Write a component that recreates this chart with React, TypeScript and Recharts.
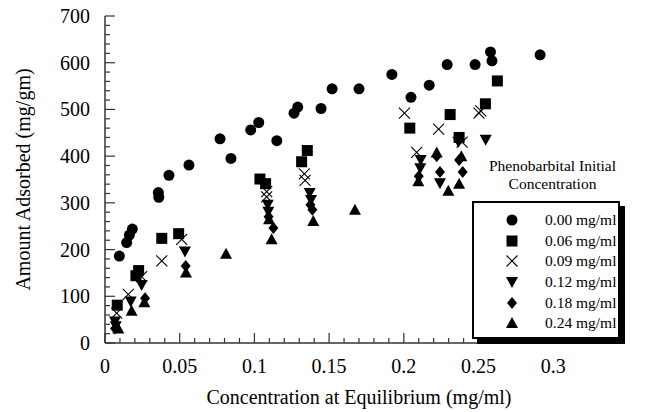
import React from 'react';
import { ScatterChart, Scatter, XAxis, YAxis } from 'recharts';

// Axis ticks: labelled values, long (major) and short (minor) tick marks
const xTickLabels = [0, 0.05, 0.1, 0.15, 0.2, 0.25, 0.3];
const xMajorTicks = [0, 0.05, 0.1, 0.15, 0.2, 0.25, 0.3];
const xMinorTicks = [
  0.01, 0.02, 0.03, 0.04, 0.06, 0.07, 0.08, 0.09, 0.11, 0.12, 0.13, 0.14,
  0.16, 0.17, 0.18, 0.19, 0.21, 0.22, 0.23, 0.24, 0.26, 0.27, 0.28, 0.29,
  0.31, 0.32, 0.33,
];
const yTickLabels = [0, 100, 200, 300, 400, 500, 600, 700];
const yMajorTicks = [0, 100, 200, 300, 400, 500, 600, 700];
const yMinorTicks = [
  20, 40, 60, 80, 120, 140, 160, 180, 220, 240, 260, 280, 320, 340, 360, 380,
  420, 440, 460, 480, 520, 540, 560, 580, 620, 640, 660, 680,
];

// Phenobarbital initial concentration series: x = equilibrium conc (mg/ml), y = adsorbed (mg/gm)
const pheno000 = [
  { x: 0.0096, y: 186 }, { x: 0.0145, y: 215 }, { x: 0.0163, y: 231 }, { x: 0.0183, y: 244 },
  { x: 0.0357, y: 322 }, { x: 0.036, y: 312 }, { x: 0.0428, y: 359 }, { x: 0.0562, y: 381 },
  { x: 0.077, y: 437 }, { x: 0.0843, y: 395 }, { x: 0.0975, y: 456 }, { x: 0.1029, y: 472 },
  { x: 0.115, y: 433 }, { x: 0.1265, y: 492 }, { x: 0.129, y: 505 }, { x: 0.1446, y: 502 },
  { x: 0.152, y: 544 }, { x: 0.17, y: 544 }, { x: 0.192, y: 575 }, { x: 0.2048, y: 526 },
  { x: 0.217, y: 552 }, { x: 0.229, y: 596 }, { x: 0.2477, y: 596 }, { x: 0.258, y: 623 },
  { x: 0.259, y: 604 }, { x: 0.2912, y: 617 },
];
const pheno006 = [
  { x: 0.0082, y: 81 }, { x: 0.0207, y: 144 }, { x: 0.0225, y: 155 }, { x: 0.038, y: 224 },
  { x: 0.0493, y: 234 }, { x: 0.1037, y: 351 }, { x: 0.1075, y: 341 }, { x: 0.1316, y: 388 },
  { x: 0.1354, y: 412 }, { x: 0.204, y: 460 }, { x: 0.231, y: 489 }, { x: 0.237, y: 440 },
  { x: 0.2546, y: 512 }, { x: 0.2626, y: 561 },
];
const pheno009 = [
  { x: 0.0078, y: 64 }, { x: 0.0156, y: 104 }, { x: 0.0245, y: 142 }, { x: 0.038, y: 176 },
  { x: 0.0513, y: 222 }, { x: 0.1082, y: 324 }, { x: 0.1082, y: 313 }, { x: 0.1334, y: 362 },
  { x: 0.1339, y: 348 }, { x: 0.2004, y: 492 }, { x: 0.2086, y: 408 }, { x: 0.2233, y: 458 },
  { x: 0.239, y: 430 }, { x: 0.2503, y: 492 }, { x: 0.2515, y: 497 },
];
const pheno012 = [
  { x: 0.0067, y: 46 }, { x: 0.0072, y: 36 }, { x: 0.0172, y: 89 }, { x: 0.0245, y: 124 },
  { x: 0.0535, y: 196 }, { x: 0.1089, y: 296 }, { x: 0.1093, y: 281 }, { x: 0.137, y: 321 },
  { x: 0.1379, y: 306 }, { x: 0.2113, y: 392 }, { x: 0.211, y: 374 }, { x: 0.2242, y: 342 },
  { x: 0.2365, y: 431 }, { x: 0.2548, y: 435 },
];
const pheno018 = [
  { x: 0.0067, y: 31 }, { x: 0.0268, y: 96 }, { x: 0.054, y: 165 }, { x: 0.1095, y: 270 },
  { x: 0.1127, y: 246 }, { x: 0.1375, y: 296 }, { x: 0.1388, y: 285 }, { x: 0.21, y: 357 },
  { x: 0.222, y: 400 }, { x: 0.2242, y: 366 }, { x: 0.237, y: 392 }, { x: 0.2394, y: 366 },
];
const pheno024 = [
  { x: 0.0089, y: 31 }, { x: 0.0178, y: 69 }, { x: 0.0263, y: 87 }, { x: 0.0542, y: 151 },
  { x: 0.081, y: 191 }, { x: 0.1098, y: 265 }, { x: 0.1115, y: 222 }, { x: 0.1394, y: 261 },
  { x: 0.1673, y: 285 }, { x: 0.2097, y: 346 }, { x: 0.222, y: 408 }, { x: 0.2298, y: 326 },
  { x: 0.237, y: 341 }, { x: 0.2385, y: 400 },
];

const seriesNames = ['0.00 mg/ml', '0.06 mg/ml', '0.09 mg/ml', '0.12 mg/ml', '0.18 mg/ml', '0.24 mg/ml'];

const FONT = '"Liberation Serif", "Times New Roman", serif';
const AXIS = '#333';
const TICK_SIZE = 8;
const TICK_MARGIN = 8;
const Y_TICK_MARGIN = 7;

const has = (list: number[], v: number) => list.some((t) => Math.abs(t - v) < 1e-9);

type P = { cx?: number; cy?: number };

const CircleMark = ({ cx = 0, cy = 0 }: P) => <circle cx={cx} cy={cy} r={5.5} fill="#000" />;
const SquareMark = ({ cx = 0, cy = 0 }: P) => (
  <rect x={cx - 5.5} y={cy - 5.5} width={11} height={11} fill="#000" />
);
const CrossMark = ({ cx = 0, cy = 0 }: P) => (
  <g stroke="#000" strokeWidth={1.1}>
    <line x1={cx - 5.5} y1={cy - 5.5} x2={cx + 5.5} y2={cy + 5.5} />
    <line x1={cx - 5.5} y1={cy + 5.5} x2={cx + 5.5} y2={cy - 5.5} />
  </g>
);
const DownTriMark = ({ cx = 0, cy = 0 }: P) => (
  <polygon points={`${cx - 6},${cy - 5} ${cx + 6},${cy - 5} ${cx},${cy + 6}`} fill="#000" />
);
const DiamondMark = ({ cx = 0, cy = 0 }: P) => (
  <polygon points={`${cx},${cy - 6} ${cx + 5},${cy} ${cx},${cy + 6} ${cx - 5},${cy}`} fill="#000" />
);
const UpTriMark = ({ cx = 0, cy = 0 }: P) => (
  <polygon points={`${cx},${cy - 6} ${cx + 6},${cy + 5} ${cx - 6},${cy + 5}`} fill="#000" />
);

const marks = [CircleMark, SquareMark, CrossMark, DownTriMark, DiamondMark, UpTriMark];
const seriesData = [pheno000, pheno006, pheno009, pheno012, pheno018, pheno024];

// Bottom axis tick: inward tick mark plus label on the labelled values
function XTick(props: any) {
  const { x, y, payload } = props;
  const v = payload.value as number;
  const axisY = y - TICK_SIZE - TICK_MARGIN;
  const len = has(xMajorTicks, v) ? 10 : 5;
  return (
    <g>
      <line x1={x} x2={x} y1={axisY} y2={axisY - len} stroke={AXIS} strokeWidth={1.2} />
      {has(xTickLabels, v) && (
        <text x={x} y={y} dy="0.71em" textAnchor="middle" fontSize={20} fontFamily={FONT} fill="#000" stroke="none">
          {String(v)}
        </text>
      )}
    </g>
  );
}

// Left axis tick: inward tick mark plus label on the hundreds
function YTick(props: any) {
  const { x, y, payload } = props;
  const v = payload.value as number;
  const axisX = x + TICK_SIZE + Y_TICK_MARGIN;
  const len = has(yMajorTicks, v) ? 10 : 5;
  return (
    <g>
      <line x1={axisX} x2={axisX + len} y1={y} y2={y} stroke={AXIS} strokeWidth={1.2} />
      {has(yTickLabels, v) && (
        <text x={x} y={y} dy="0.35em" textAnchor="end" fontSize={20} fontFamily={FONT} fill="#000" stroke="none">
          {String(v)}
        </text>
      )}
    </g>
  );
}

function LegendBox() {
  return (
    <>
      <div
        style={{
          position: 'absolute',
          left: 472,
          top: 157,
          width: 161,
          textAlign: 'center',
          fontFamily: FONT,
          fontSize: 15.5,
          lineHeight: '17.5px',
          color: '#000',
          whiteSpace: 'nowrap',
        }}
      >
        Phenobarbital Initial
        <br />
        Concentration
      </div>
      <div
        style={{
          position: 'absolute',
          left: 472,
          top: 201,
          width: 148,
          height: 138,
          border: '2px solid #000',
          background: '#fff',
          boxShadow: '5px 5px 0 #000',
          paddingTop: 7,
          boxSizing: 'border-box',
          fontFamily: FONT,
          color: '#000',
        }}
      >
        {seriesNames.map((name, i) => {
          const Mark = marks[i];
          return (
            <div key={name} style={{ display: 'flex', alignItems: 'center', height: 20.6, fontSize: 15.5 }}>
              <svg width={71} height={20} style={{ flex: 'none' }}>
                <Mark cx={38} cy={10} />
              </svg>
              <span style={{ whiteSpace: 'nowrap' }}>{name}</span>
            </div>
          );
        })}
      </div>
    </>
  );
}

export default function App() {
  return (
    <div style={{ position: 'absolute', left: 0, top: 0, width: 646, height: 412, background: '#fff' }}>
      <ScatterChart width={646} height={412} margin={{ top: 16, right: 33, bottom: 0, left: 0 }}>
        <XAxis
          dataKey="x"
          type="number"
          domain={[0, 0.34]}
          allowDataOverflow
          ticks={[...xMajorTicks, ...xMinorTicks]}
          interval={0}
          height={69}
          tickLine={false}
          tickSize={TICK_SIZE}
          tickMargin={TICK_MARGIN}
          axisLine={{ stroke: AXIS, strokeWidth: 1.5 }}
          tick={(p: any) => <XTick {...p} />}
          label={{
            value: 'Concentration at Equilibrium (mg/ml)',
            position: 'insideBottom',
            offset: 8,
            style: { fontSize: 20, fill: '#000', fontFamily: FONT },
          }}
        />
        <YAxis
          dataKey="y"
          type="number"
          domain={[0, 700]}
          allowDataOverflow
          ticks={[...yMajorTicks, ...yMinorTicks]}
          interval={0}
          width={105}
          tickLine={false}
          tickSize={TICK_SIZE}
          tickMargin={Y_TICK_MARGIN}
          axisLine={{ stroke: AXIS, strokeWidth: 1.5 }}
          tick={(p: any) => <YTick {...p} />}
          label={{
            value: 'Amount Adsorbed (mg/gm)',
            angle: -90,
            position: 'center',
            dx: -30,
            style: { fontSize: 20, fill: '#000', fontFamily: FONT },
          }}
        />
        {seriesData.map((data, i) => {
          const Mark = marks[i];
          return (
            <Scatter
              key={seriesNames[i]}
              name={seriesNames[i]}
              data={data}
              shape={(props: any) => <Mark cx={props.cx} cy={props.cy} />}
              isAnimationActive={false}
            />
          );
        })}
      </ScatterChart>
      <LegendBox />
    </div>
  );
}
